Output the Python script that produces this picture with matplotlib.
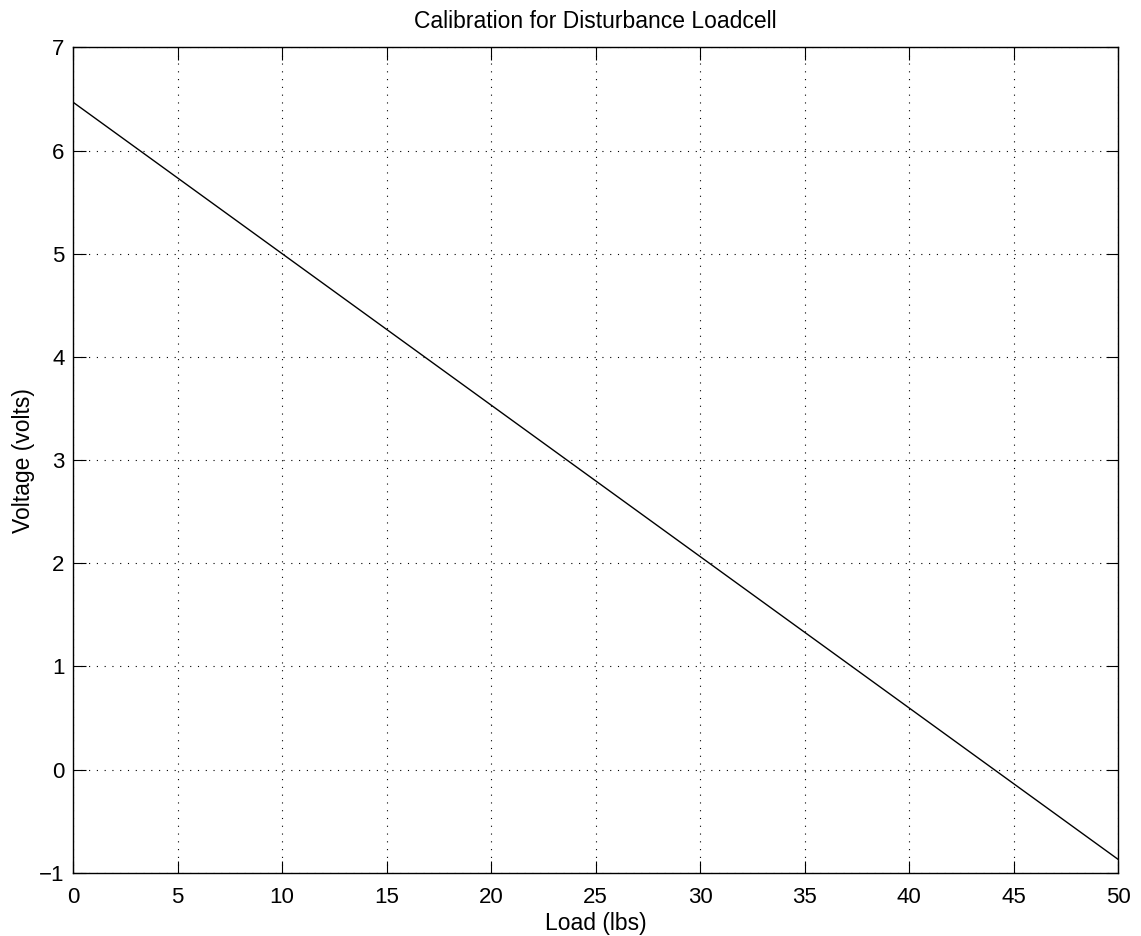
import matplotlib
matplotlib.use("Agg")
import matplotlib.pyplot as plt

# Calibration line: load (lbs) vs output voltage (volts)
load_lbs = [0, 50]
voltage = [6.47, -0.87]

x_ticks = [0, 5, 10, 15, 20, 25, 30, 35, 40, 45, 50]
y_ticks = [-1, 0, 1, 2, 3, 4, 5, 6, 7]

plt.rcParams['font.family'] = ['Liberation Sans', 'DejaVu Sans']
plt.rcParams['axes.unicode_minus'] = True

fig = plt.figure(figsize=(11.41, 9.36), dpi=100)
ax = fig.add_axes([73 / 1141, 1 - 872.7 / 936, (1118 - 73) / 1141, (872.7 - 47.5) / 936])

ax.plot(load_lbs, voltage, color='black', linewidth=1.0)

ax.set_xlim(0, 50)
ax.set_ylim(-1, 7)
ax.set_xticks(x_ticks)
ax.set_yticks(y_ticks)
ax.tick_params(direction='in', length=9, width=0.8, top=True, right=True,
               labelsize=16, colors='black')
ax.tick_params(axis='x', pad=10)
ax.tick_params(axis='y', pad=6)
ax.grid(True, linestyle=(0, (1, 6)), color='black', linewidth=0.8)
for s in ax.spines.values():
    s.set_linewidth(1.0)

ax.set_title('Calibration for Disturbance Loadcell', fontsize=16.5, pad=14)
ax.set_xlabel('Load (lbs)', fontsize=16.5, labelpad=3)
ax.set_ylabel('Voltage (volts)', fontsize=16.5, labelpad=3)

fig.savefig('out.png', dpi=100, facecolor='white')
